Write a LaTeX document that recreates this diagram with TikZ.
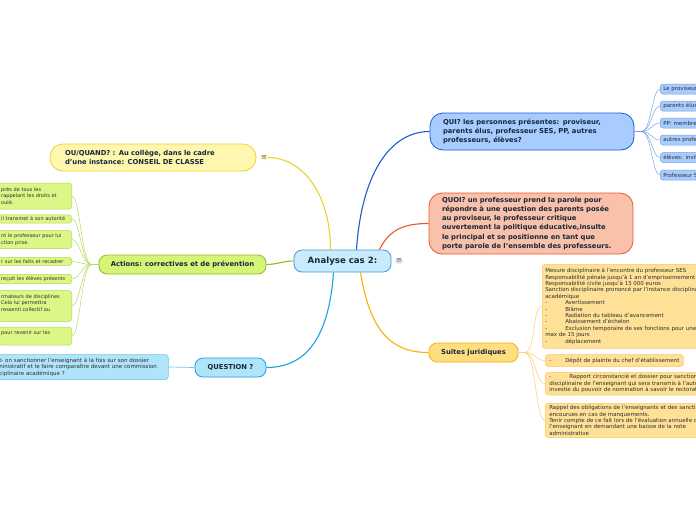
\documentclass[tikz,border=0pt]{standalone}
\usepackage{fontspec}
\setmainfont{DejaVu Sans}
\usetikzlibrary{calc}

\definecolor{ink}{RGB}{22,40,58}
\definecolor{leafink}{RGB}{45,45,45}
\definecolor{hubfill}{RGB}{200,236,253}
\definecolor{hubline}{RGB}{70,150,215}
\definecolor{quifill}{RGB}{168,204,255}
\definecolor{quiline}{RGB}{28,92,208}
\definecolor{quileaf}{RGB}{110,160,235}
\definecolor{quoifill}{RGB}{249,192,170}
\definecolor{quoiline}{RGB}{236,88,44}
\definecolor{suitefill}{RGB}{255,222,130}
\definecolor{suiteline}{RGB}{246,178,10}
\definecolor{suiteleaf}{RGB}{254,225,150}
\definecolor{suiteleafline}{RGB}{250,200,100}
\definecolor{oufill}{RGB}{255,246,176}
\definecolor{ouline}{RGB}{240,210,40}
\definecolor{actfill}{RGB}{214,244,120}
\definecolor{actline}{RGB}{140,192,30}
\definecolor{actleaf}{RGB}{220,246,135}
\definecolor{actleafline}{RGB}{175,218,80}
\definecolor{qfill}{RGB}{176,228,250}
\definecolor{qline}{RGB}{28,160,228}
\definecolor{qleafline}{RGB}{110,196,240}
\definecolor{menufill}{RGB}{215,232,245}

\newcommand\tiret[1][16pt]{\makebox[#1][l]{-}}

\tikzset{
  hub/.style={draw=hubline, fill=hubfill, line width=0.8pt, rounded corners=8pt,
    minimum width=97pt, minimum height=22pt, text=ink,
    font=\bfseries\fontsize{8.6}{10}\selectfont},
  topic/.style={line width=0.8pt, rounded corners=13pt, text=ink, align=left,
    text width=178pt, inner xsep=13pt, font=\bfseries\fontsize{6.8}{9.2}\selectfont},
  branch/.style={line width=0.8pt, rounded corners=8pt, text=ink,
    minimum height=19pt, font=\bfseries\fontsize{6.8}{9}\selectfont},
  leaf/.style={line width=0.5pt, rounded corners=3pt, text=leafink, align=left,
    inner xsep=3pt, inner ysep=2.2pt, font=\fontsize{5.5}{6.4}\selectfont},
  actleafbox/.style={leaf, draw=actleafline, fill=actleaf, text width=67.5pt, anchor=east,
    font=\fontsize{5}{6.4}\selectfont},
  menu/.style={rounded corners=1.5pt, inner sep=0.8pt, text=ink!70,
    font=\fontsize{7}{7}\selectfont},
  link/.style={line width=1.1pt},
  twig/.style={line width=0.45pt}
}

\begin{document}
\begin{tikzpicture}[x=1pt,y=-1pt]
\fill[white] (0,0) rectangle (696,520);
\useasboundingbox (0,0) rectangle (696,520);

\node[hub] (cas) at (342.5,261) {Analyse cas 2:};
\node[menu, fill=menufill] (casmenu) at (399,261) {≡};

\node[topic, draw=quiline, fill=quifill, minimum height=37pt] (qui) at (532,131.5)
  {QUI? les personnes présentes: proviseur,\\ parents élus, professeur SES, PP, autres\\ professeurs, élèves?};
\node[topic, draw=quoiline, fill=quoifill, minimum height=61pt] (quoi) at (531,223.5)
  {QUOI? un professeur prend la parole pour\\ répondre à une question des parents posée\\ au proviseur, le professeur critique\\ ouvertement la politique éducative,insulte\\ le principal et se positionne en tant que\\ porte parole de l'ensemble des professeurs.};
\node[topic, draw=ouline, fill=oufill, minimum height=27pt, inner xsep=15pt, text width=176pt] (ou) at (153,157.5)
  {OU/QUAND? : Au collège, dans le cadre\\ d'une instance: CONSEIL DE CLASSE};
\node[menu, fill=oufill] (oumenu) at (264,157.5) {≡};
\node[branch, draw=actline, fill=actfill, minimum width=167pt] (actions) at (182.5,264.5)
  {Actions: correctives et de prévention};
\node[branch, draw=qline, fill=qfill, minimum width=71pt] (question) at (230.5,367.5) {QUESTION ?};
\node[branch, draw=suiteline, fill=suitefill, minimum width=89pt] (suites) at (473.5,352.5) {Suites juridiques};

\draw[link, draw=ouline] ($(cas.north)+(-12,0)$) .. controls +(0,-55) and +(35,0) .. (oumenu.east);
\draw[link, draw=quiline] ($(cas.north)+(14,0)$) .. controls +(5,-75) and +(-40,0) .. (qui.west);
\draw[link, draw=quoiline] ($(cas.north east)+(-12,0)$) .. controls +(10,-20) and +(-25,0) .. (quoi.west);
\draw[link, draw=suiteline] ($(cas.south)+(18,0)$) .. controls +(10,62) and +(-35,0) .. (suites.west);
\draw[link, draw=qline] ($(cas.south)+(-9,0)$) .. controls +(-5,72) and +(35,0) .. (question.east);
\draw[link, draw=actline] (cas.west) .. controls +(-10,0) and +(10,0) .. (actions.east);

\foreach \name/\y/\txt in {qa/89/Le proviseur, qb/106/parents élus, qc/123/PP: membre,
    qd/140/autres professeurs, qe/157.5/élèves: invités, qf/175/Professeur SES}
  \node[leaf, draw=quileaf, fill=quifill, text width=60pt, minimum height=10pt, anchor=west] (\name) at (660,\y) {\txt};
\foreach \name in {qa,qb,qc,qd,qe,qf}
  \draw[twig, draw=quileaf] (qui.east) -- ++(7,0) .. controls +(10,0) and +(-8,0) .. (\name.west);

\node[actleafbox, minimum height=26pt] (aa) at (72,196)
  {près de tous les\\ rappelant les droits et\\ oulé.};
\node[actleafbox] (ab) at (72,219) {il transmet à son autorité};
\node[actleafbox, minimum height=18pt] (ac) at (72,239.5)
  {nt le professeur pour lui\\ ction prise.};
\node[actleafbox] (ad) at (72,261.5) {r sur les faits et recadrer};
\node[actleafbox] (ae) at (72,279) {reçoit les élèves présents};
\node[actleafbox, minimum height=31pt] (af) at (72,306)
  {rmateurs de disciplines\\ Cela lui permettra\\ ressenti collectif ou\\ \mbox{}};
\node[actleafbox, minimum height=18pt] (ag) at (72,336)
  {pour revenir sur les\\ \mbox{}};
\foreach \name in {aa,ab,ac,ad,ae,af,ag}
  \draw[twig, draw=actleafline] (actions.west) -- ++(-7,0) .. controls +(-10,0) and +(8,0) .. (\name.east);

\node[leaf, draw=qleafline, fill=qfill, text width=166pt, anchor=east, minimum height=25pt] (qleaf) at (168.5,367)
  {t- on sanctionner l'enseignant à la fois sur son dossier\\ ninistratif et le faire comparaître devant une commission\\ ciplinaire académique ?};
\draw[twig, draw=qleafline, line width=0.7pt] (question.west) -- (qleaf.east);

\node[leaf, draw=suiteleafline, fill=suiteleaf, anchor=north west, minimum height=84pt] (sa) at (542,264)
  {Mesure disciplinaire à l'encontre du professeur SES\\
   Responsabilité pénale jusqu'à 1 an d'emprisonnement\\
   Responsabilité civile jusqu'à 15 000 euros\\
   Sanction disciplinaire prononcé par l'instance disciplinaire\\
   académique\\
   \tiret[20pt]Avertissement\\
   \tiret[20pt]Blâme\\
   \tiret[20pt]Radiation du tableau d'avancement\\
   \tiret[20pt]Abaissement d'échelon\\
   \tiret[20pt]Exclusion temporaire de ses fonctions pour une\\
   max de 15 jours\\
   \tiret[20pt]déplacement};
\node[leaf, draw=suiteleafline, fill=suiteleaf, anchor=west, inner xsep=4pt, minimum height=12pt] (sb) at (545,360.5)
  {\tiret Dépôt de plainte du chef d'établissement};
\node[leaf, draw=suiteleafline, fill=suiteleaf, anchor=north west, inner xsep=4pt] (sc) at (545,372)
  {\tiret[20pt]Rapport circonstancié et dossier pour sanction\\ disciplinaire de l'enseignant qui sera transmis à l'autorité\\ investie du pouvoir de nomination à savoir le rectorat};
\node[leaf, draw=suiteleafline, fill=suiteleaf, anchor=north west, inner xsep=4pt] (sd) at (545,403)
  {Rappel des obligations de l'enseignants et des sanctions\\ encourues en cas de manquements.\\ Tenir compte de ce fait lors de l'évaluation annuelle de\\ l'enseignant en demandant une baisse de la note\\ administrative};
\foreach \name in {sa,sb,sc,sd}
  \draw[twig, draw=suiteleafline] (suites.east) -- ++(6,0) .. controls +(12,0) and +(-10,0) .. (\name.west);
\end{tikzpicture}
\end{document}
